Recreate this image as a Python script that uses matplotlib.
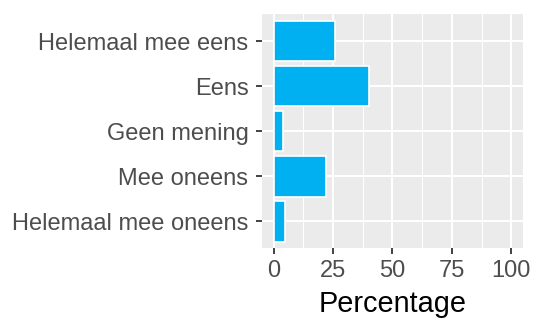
import numpy as np
import matplotlib.pyplot as plt

plt.rcParams['font.family'] = ['Liberation Sans', 'DejaVu Sans']

categories = ['Helemaal mee oneens', 'Mee oneens', 'Geen mening', 'Eens', 'Helemaal mee eens']
percentages = [5, 22, 4, 40, 26]
x_ticks = [0, 25, 50, 75, 100]

fig = plt.figure(figsize=(5.34, 3.18), dpi=100)
ax = fig.add_axes([0.490, 0.219, 0.490, 0.737])
ax.set_facecolor('#EBEBEB')

y = np.arange(1, len(categories) + 1)
ax.barh(y, percentages, height=0.9, color='#00B0F0', edgecolor='white', linewidth=1.2, zorder=3)

ax.set_xlim(-5, 105)
ax.set_ylim(0.4, 5.6)
ax.set_xticks(x_ticks)
ax.set_xticks([12.5, 37.5, 62.5, 87.5], minor=True)
ax.set_yticks(y)
ax.set_yticklabels(categories)

ax.grid(which='major', color='white', linewidth=1.5, zorder=1)
ax.grid(which='minor', axis='x', color='white', linewidth=0.75, zorder=1)
for s in ax.spines.values():
    s.set_visible(False)

ax.tick_params(axis='both', which='major', length=4.5, width=1.3, color='#333333',
               labelcolor='#4D4D4D', labelsize=17, pad=4)
ax.tick_params(axis='y', which='major', pad=5)
ax.tick_params(axis='x', which='minor', length=0)
ax.set_xlabel('Percentage', fontsize=20.8, color='black', labelpad=6)

fig.savefig('out.png', dpi=100)
